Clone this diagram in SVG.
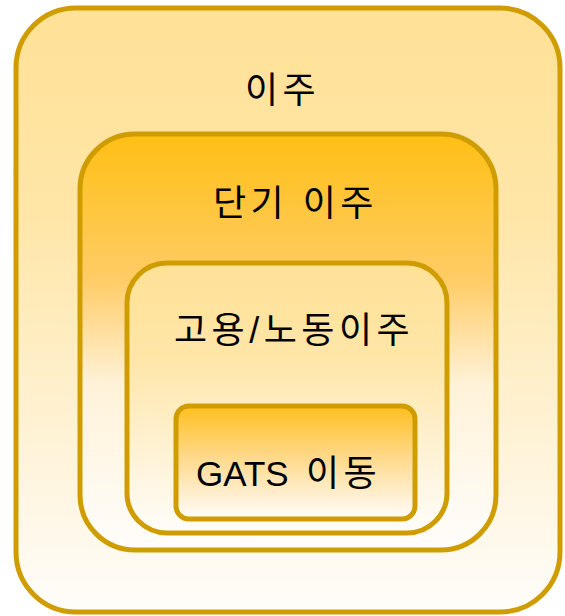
<svg xmlns="http://www.w3.org/2000/svg" width="565" height="616" viewBox="0 0 565 616">
<defs>
<linearGradient id="gLight" x1="0" y1="0" x2="0" y2="1">
<stop offset="0" stop-color="#FFE196"/>
<stop offset="0.35" stop-color="#FFE6A8"/>
<stop offset="1" stop-color="#FFFDFB"/>
</linearGradient>
<linearGradient id="gDark" x1="0" y1="0" x2="0" y2="1">
<stop offset="0" stop-color="#FFBF14"/>
<stop offset="0.35" stop-color="#FFCC66"/>
<stop offset="0.6" stop-color="#FFF2D8"/>
<stop offset="1" stop-color="#FFFDFB"/>
</linearGradient>
<linearGradient id="gSmall" x1="0" y1="0" x2="0" y2="1">
<stop offset="0" stop-color="#FFBF1E"/>
<stop offset="0.45" stop-color="#FFD98A"/>
<stop offset="1" stop-color="#FFFDFB"/>
</linearGradient>
</defs>
<style>
.box{stroke:#CF9D00;stroke-width:5}
.lbl{font-family:"Liberation Sans","Noto Sans CJK KR",sans-serif;font-size:36px;fill:#000;letter-spacing:4.5px}
.lat{font-size:35px;letter-spacing:0}
</style>
<g id="node-migration">
<rect class="box" x="16" y="8" width="544" height="604" rx="60" fill="url(#gLight)"/>
<text class="lbl" x="245" y="103">이주</text>
</g>
<g id="node-short-term">
<rect class="box" x="80" y="134" width="416" height="416" rx="55" fill="url(#gDark)"/>
<text class="lbl" x="213" y="216">단기 이주</text>
</g>
<g id="node-employment">
<rect class="box" x="127" y="263" width="320" height="270" rx="40" fill="url(#gLight)"/>
<text class="lbl" x="174" y="343">고용/노동이주</text>
</g>
<g id="node-gats">
<rect class="box" x="176" y="406" width="239" height="113" rx="13" fill="url(#gSmall)"/>
<text class="lbl" x="196" y="486"><tspan class="lat">GATS</tspan><tspan x="306">이동</tspan></text>
</g>
<g id="connectors"/>
</svg>
